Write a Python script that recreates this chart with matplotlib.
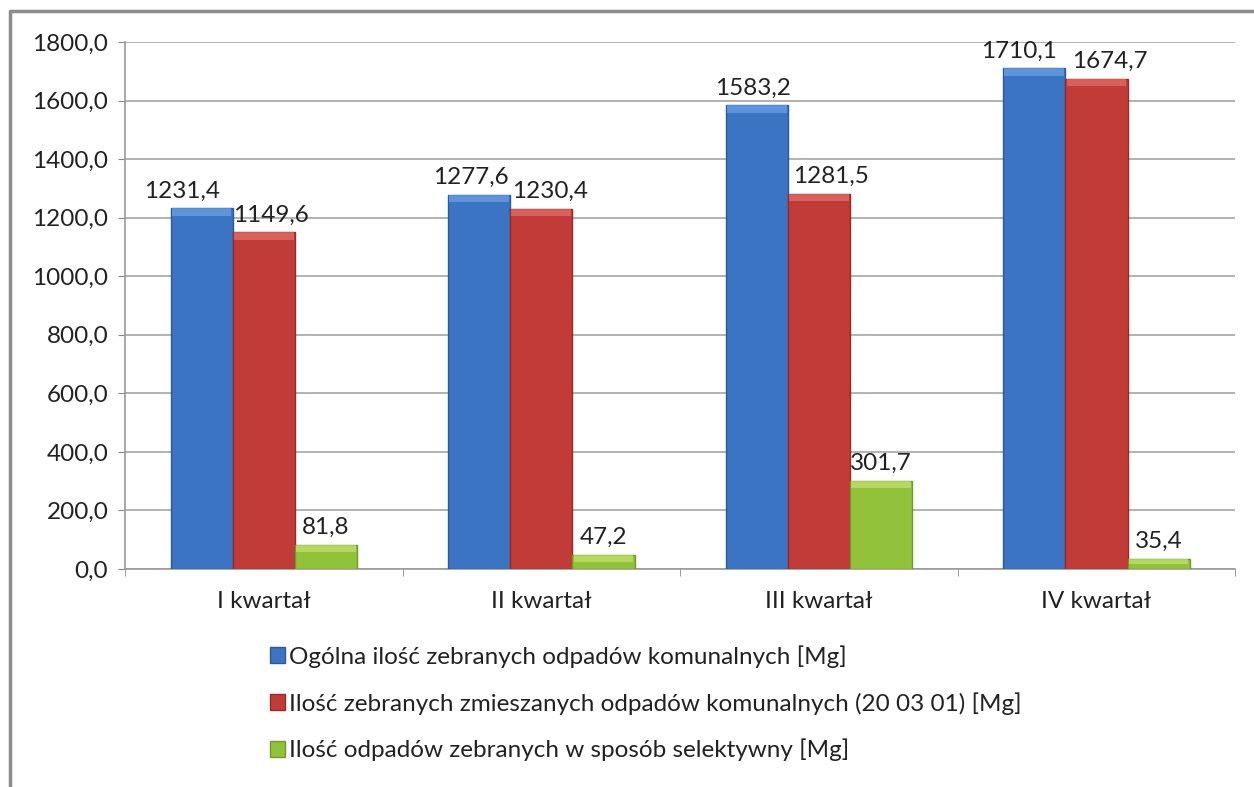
import numpy as np
import matplotlib.pyplot as plt
from matplotlib.lines import Line2D

plt.rcParams['font.family'] = ['Lato', 'DejaVu Sans']

kwartaly = ['I kwartał', 'II kwartał', 'III kwartał', 'IV kwartał']
ogolna = [1231.4, 1277.6, 1583.2, 1710.1]
zmieszane = [1149.6, 1230.4, 1281.5, 1674.7]
selektywne = [81.8, 47.2, 301.7, 35.4]
serie_nazwy = ['Ogólna ilość zebranych odpadów komunalnych [Mg]',
               'Ilość zebranych zmieszanych odpadów komunalnych (20 03 01) [Mg]',
               'Ilość odpadów zebranych w sposób selektywny [Mg]']
y_ticks = [0, 200, 400, 600, 800, 1000, 1200, 1400, 1600, 1800]

kolory = ['#3a74c2', '#c13c38', '#92c23a']
krawedzie = ['#2a5a9c', '#952a27', '#6f9a26']
jasne = ['#6ea3e6', '#e5706b', '#c4e46e']
# horizontal nudge of the value labels (points), like Excel's placement
przesuniecia = [[-14, -6, -3, -11], [5, 6, 9, 10], [0, 0, 0, 0]]

fs = 17.5
fig = plt.figure(figsize=(12.54, 7.87), dpi=100)
ax = fig.add_axes([0.0997, 0.277, 0.8853, 0.6696])

x = np.arange(len(kwartaly))
w = 0.224
serie = [ogolna, zmieszane, selektywne]
for i, vals in enumerate(serie):
    pos = x + (i - 1) * w
    ax.bar(pos, vals, w, color=kolory[i], edgecolor=krawedzie[i],
           linewidth=1, zorder=3, label=serie_nazwy[i])
    # lighter bevel on top of each bar
    cap = np.minimum(25, np.array(vals) * 0.5)
    ax.bar(pos, cap, w * 0.96, bottom=np.array(vals) - cap,
           color=jasne[i], linewidth=0, zorder=4, alpha=0.7)
    for j, (p, v) in enumerate(zip(pos, vals)):
        ax.annotate(f'{v:.1f}'.replace('.', ','), (p, v),
                    xytext=(przesuniecia[i][j], 5), textcoords='offset points',
                    ha='center', va='bottom', fontsize=fs, color='#222222',
                    zorder=5)

ax.set_ylim(0, 1800)
ax.set_xlim(-0.5, 3.5)
ax.set_yticks(y_ticks)
ax.set_yticklabels([f'{t:.1f}'.replace('.', ',') for t in y_ticks])
ax.set_xticks(x)
ax.set_xticklabels(kwartaly)
ax.set_xticks(np.arange(-0.5, 4.0, 1.0), minor=True)
ax.tick_params(axis='x', which='major', length=0, pad=16, labelsize=fs,
               colors='#222222')
ax.tick_params(axis='x', which='minor', length=5, color='#888888')
ax.tick_params(axis='y', length=5, color='#888888', pad=7, labelsize=fs,
               colors='#222222')
ax.yaxis.grid(True, color='#a6a6a6', linewidth=1.2, zorder=0)
ax.set_axisbelow(True)
for s in ['top', 'right']:
    ax.spines[s].set_visible(False)
for s in ['left', 'bottom']:
    ax.spines[s].set_color('#999999')
    ax.spines[s].set_linewidth(1.2)

leg = fig.legend(loc='upper left', bbox_to_anchor=(270 / 1254, 1 - 645 / 787),
                 frameon=False, fontsize=fs, handlelength=0.6,
                 handleheight=0.6, handletextpad=0.2, labelspacing=1.0,
                 borderaxespad=0, borderpad=0)
for t in leg.get_texts():
    t.set_color('#222222')

# outer chart frame (left and top edges visible)
fig.add_artist(Line2D([10 / 1254, 10 / 1254, 1.0], [0, 1 - 11 / 787, 1 - 11 / 787],
                      transform=fig.transFigure, color='#8c8c8c', linewidth=2.5))

fig.savefig('out.png', dpi=100)
